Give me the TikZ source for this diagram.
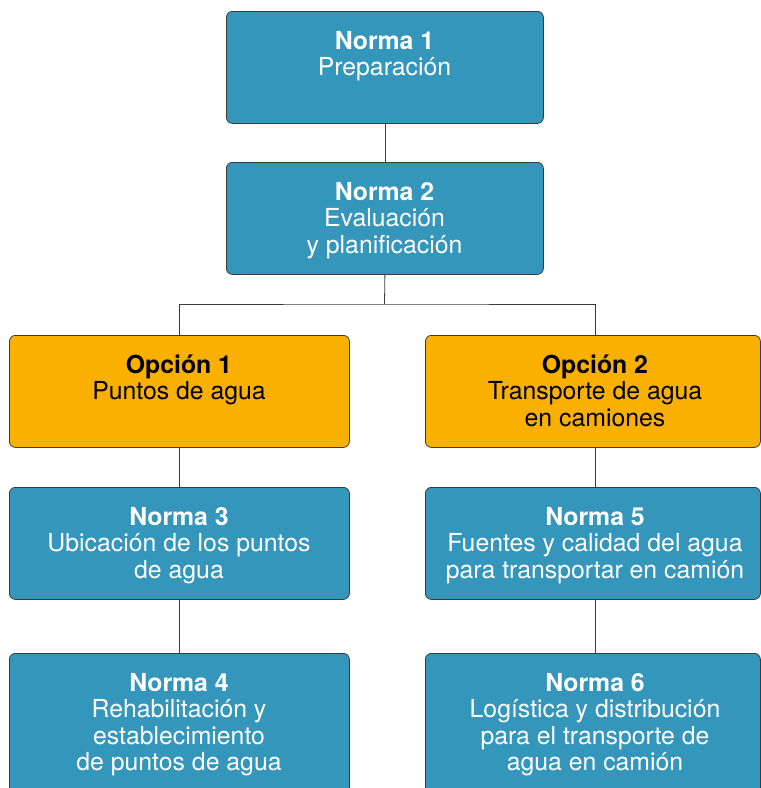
\documentclass[tikz,border=0pt]{standalone}
\usepackage{fontspec}
\setmainfont{TeX Gyre Heros}
\definecolor{boxblue}{HTML}{3596BC}
\definecolor{boxorange}{HTML}{F9B000}
\definecolor{linegray}{HTML}{3A3A3A}
\newcommand{\lines}[1]{\begin{tabular}[t]{@{}c@{}}#1\end{tabular}}
\begin{document}
\begin{tikzpicture}[x=1pt,y=-1pt,
  box/.style={draw=linegray, line width=0.8pt, rounded corners=6pt, minimum height=112pt, inner sep=0pt, anchor=north west},
  bluebox/.style={box, fill=boxblue},
  orangebox/.style={box, fill=boxorange},
  lbl/.style={anchor=base, inner sep=0pt, font=\fontsize{24.8}{26.5}\selectfont},
  wlbl/.style={lbl, text=white},
  klbl/.style={lbl, text=black},
  conn/.style={draw=linegray, line width=0.8pt}]
\useasboundingbox (0,0) rectangle (761,788);
\clip (0,0) rectangle (761,788);
% boxes
\node[bluebox, minimum width=317pt] (n1) at (226,11) {};
\node[bluebox, minimum width=317pt] (n2) at (226,162) {};
\node[orangebox, minimum width=340pt] (o1) at (9,335) {};
\node[orangebox, minimum width=335pt] (o2) at (425,335) {};
\node[bluebox, minimum width=340pt] (n3) at (9,487) {};
\node[bluebox, minimum width=335pt] (n5) at (425,487) {};
\node[bluebox, minimum width=340pt, minimum height=160pt] (n4) at (9,653) {};
\node[bluebox, minimum width=335pt, minimum height=160pt] (n6) at (425,653) {};
% connectors
\coordinate (rc) at (595,0);
\coordinate (split) at (384.5,304);
\draw[conn] (n1.south) -- (n2.north);
\draw[conn] (n2.south) -- (split);
\draw[conn] (o1.north) |- (split) -| (o2.north -| rc);
\draw[conn] (o1.south) -- (n3.north);
\draw[conn] (n3.south) -- (n4.north);
\draw[conn] (o2.south -| rc) -- (n5.north -| rc);
\draw[conn] (n5.south -| rc) -- (n6.north -| rc);
% labels
\node[wlbl] (t1) at (384.5,49) {\lines{\textbf{Norma 1}\\Preparación}};
\node[wlbl] (t2) at (384.5,200) {\lines{\textbf{Norma 2}\\Evaluación\\y planificación}};
\node[klbl] (to1) at (179,373) {\lines{\textbf{Opción 1}\\Puntos de agua}};
\node[klbl] (to2) at (595,373) {\lines{\textbf{Opción 2}\\Transporte de agua\\en camiones}};
\node[wlbl] (t3) at (179,525) {\lines{\textbf{Norma 3}\\Ubicación de los puntos\\de agua}};
\node[wlbl] (t5) at (595,525) {\lines{\textbf{Norma 5}\\Fuentes y calidad del agua\\para transportar en camión}};
\node[wlbl] (t4) at (179,691) {\lines{\textbf{Norma 4}\\Rehabilitación y\\establecimiento\\de puntos de agua}};
\node[wlbl] (t6) at (595,691) {\lines{\textbf{Norma 6}\\Logística y distribución\\para el transporte de\\agua en camión}};
\end{tikzpicture}
\end{document}
